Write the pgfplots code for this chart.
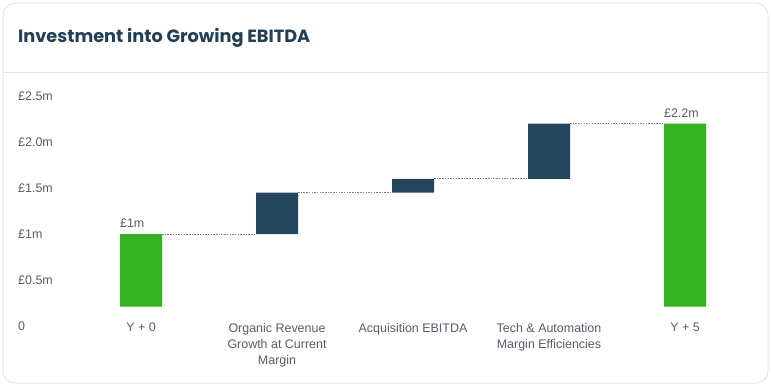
\documentclass[border=0pt]{standalone}
\usepackage{pgfplots}
\pgfplotsset{compat=1.18}
\usepackage{fontspec}
\setmainfont{Liberation Sans}
\newfontfamily\titlefont{Poppins}
\definecolor{cardborder}{HTML}{E3E5EA}
\definecolor{titlecol}{HTML}{233F55}
\definecolor{tickcol}{HTML}{555C68}
\definecolor{barGreen}{HTML}{34B221}
\definecolor{barDark}{HTML}{26465C}
\definecolor{conn}{HTML}{6F8496}
\begin{document}
\begin{tikzpicture}[x=1bp,y=1bp]
\path[use as bounding box] (0,0) rectangle (771,386);
\draw[cardborder, line width=1bp, rounded corners=12bp] (3,3) rectangle (768,383);
\draw[cardborder, line width=1bp] (3,314) -- (768,314);
\node[anchor=west, font=\titlefont\bfseries\fontsize{17.8}{21}\selectfont, text=titlecol, inner sep=0] at (18,348) {Investment into Growing EBITDA};
\pgfplotsset{base/.style={
  at={(73bp,60bp)}, anchor=south west, scale only axis,
  width=680bp, height=230bp,
  xmin=-0.5, xmax=4.5, ymin=0, ymax=2.5,
  axis line style={draw=none}, major tick length=0pt,
  clip=false,
}}
\begin{axis}[base,
  ybar stacked, bar width=42bp,
  xtick={0,1,2,3,4},
  xticklabels={Y + 0,{Organic Revenue\\Growth at Current\\Margin},Acquisition EBITDA,{Tech \& Automation\\Margin Efficiencies},Y + 5},
  xticklabel style={align=center, anchor=north, inner sep=0pt, yshift=3bp, font=\fontsize{12.5}{16}\selectfont, text=tickcol},
  ytick={0,0.5,1,1.5,2,2.5},
  yticklabels={0,£0.5m,£1m,£1.5m,£2.0m,£2.5m},
  yticklabel style={anchor=west, inner sep=0pt, xshift=-55bp, font=\fontsize{12.5}{14}\selectfont, text=tickcol},
]
\addplot[fill=none, draw=none] coordinates {(0,0.21) (1,1.0) (2,1.45) (3,1.6) (4,0.21)};
\addplot[fill=barGreen, draw=none] coordinates {(0,0.79) (1,0) (2,0) (3,0) (4,1.99)};
\addplot[fill=barDark, draw=none] coordinates {(0,0) (1,0.45) (2,0.15) (3,0.6) (4,0)};
\end{axis}
\begin{axis}[base, xtick=\empty, ytick=\empty]
\addplot[conn, line width=0.7bp, dash pattern=on 1.5bp off 1.2bp] coordinates {(0.155,1.0) (0.845,1.0)};
\addplot[conn, line width=0.7bp, dash pattern=on 1.5bp off 1.2bp] coordinates {(1.155,1.45) (1.845,1.45)};
\addplot[conn, line width=0.7bp, dash pattern=on 1.5bp off 1.2bp] coordinates {(2.155,1.6) (2.845,1.6)};
\addplot[conn, line width=0.7bp, dash pattern=on 1.5bp off 1.2bp] coordinates {(3.155,2.2) (3.845,2.2)};
\node[anchor=base west, inner sep=0pt, yshift=6.5bp, font=\fontsize{12.5}{14}\selectfont, text=tickcol] at (axis cs:-0.155,1.0) {£1m};
\node[anchor=base west, inner sep=0pt, yshift=6.5bp, font=\fontsize{12.5}{14}\selectfont, text=tickcol] at (axis cs:3.845,2.2) {£2.2m};
\end{axis}
\end{tikzpicture}
\end{document}
